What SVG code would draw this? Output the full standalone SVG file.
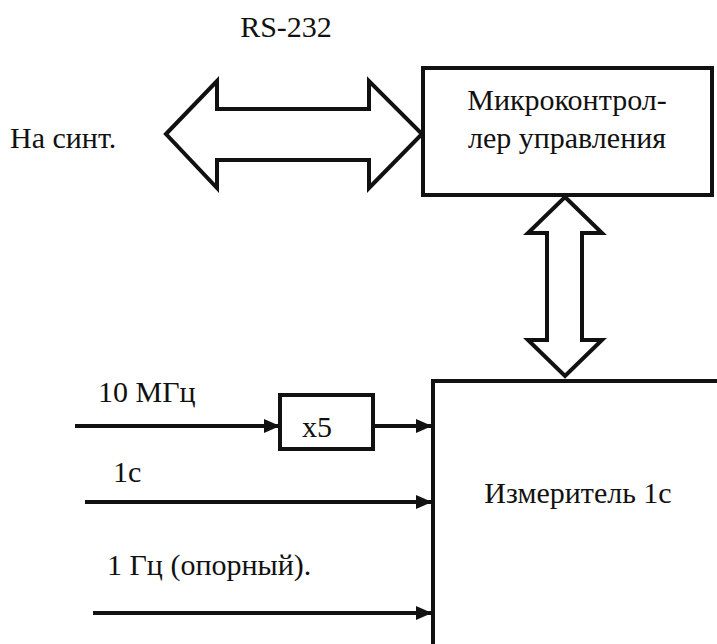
<svg xmlns="http://www.w3.org/2000/svg" width="717" height="644" viewBox="0 0 717 644">
<style>
text{font-size:30px;fill:#111}
.box{fill:#fff;stroke:#111;stroke-width:4}
.bus{fill:#fff;stroke:#111;stroke-width:4;stroke-linejoin:miter}
.wire{stroke:#111;stroke-width:4;fill:none}
</style>
<defs>
<marker id="ah" markerUnits="userSpaceOnUse" markerWidth="16" markerHeight="14" refX="16" refY="7" orient="auto">
<path d="M0,0 L16,7 L0,14 Z" fill="#111"/>
</marker>
</defs>
<rect width="717" height="644" fill="#fff"/>
<g id="connectors">
<polygon class="bus" points="166,134 217,81 217,109 369,109 369,81 422,134 369,188 369,160 217,160 217,188"/>
<polygon class="bus" points="565,197 602,233 582,233 582,340 602,340 565,376 528,340 547,340 547,233 528,233"/>
<line class="wire" x1="75" y1="426" x2="280" y2="426" marker-end="url(#ah)"/>
<line class="wire" x1="373" y1="426" x2="432" y2="426" marker-end="url(#ah)"/>
<line class="wire" x1="85" y1="502" x2="432" y2="502" marker-end="url(#ah)"/>
<line class="wire" x1="93" y1="613" x2="432" y2="613" marker-end="url(#ah)"/>
</g>
<g id="labels" font-family="Liberation Serif, DejaVu Serif, serif">
<text x="286" y="37" text-anchor="middle">RS-232</text>
<text x="10" y="148">На синт.</text>
<text x="98" y="402">10 МГц</text>
<text x="113" y="482">1с</text>
<text x="107" y="575">1 Гц (опорный).</text>
</g>
<g id="mcu" font-family="Liberation Serif, DejaVu Serif, serif">
<rect class="box" x="423" y="68" width="289" height="127"/>
<text x="567" y="110" text-anchor="middle">Микроконтрол-</text>
<text x="567" y="148" text-anchor="middle">лер управления</text>
</g>
<g id="mult" font-family="Liberation Serif, DejaVu Serif, serif">
<rect class="box" x="280" y="395" width="93" height="54"/>
<text x="317" y="437" text-anchor="middle">x5</text>
</g>
<g id="meter" font-family="Liberation Serif, DejaVu Serif, serif">
<rect class="box" x="433" y="381" width="300" height="280"/>
<text x="578" y="503" text-anchor="middle">Измеритель 1с</text>
</g>
</svg>
